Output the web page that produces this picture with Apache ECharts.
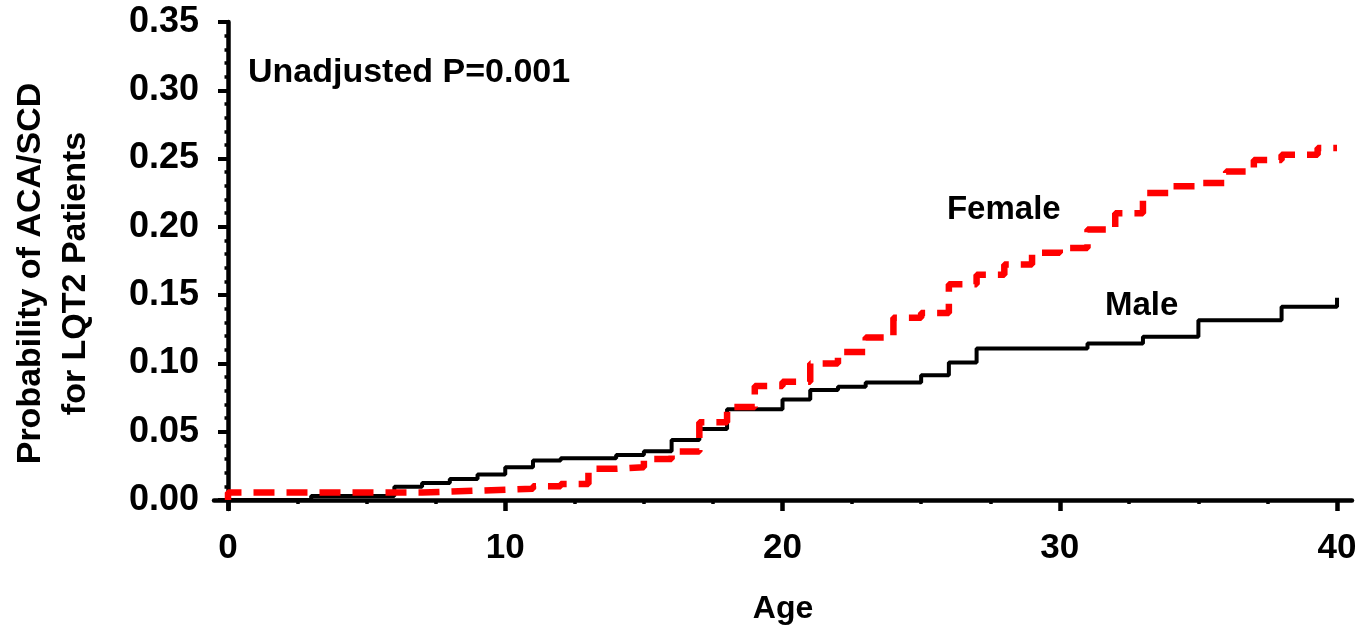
<!DOCTYPE html>
<html>
<head>
<meta charset="utf-8">
<script src="https://cdn.jsdelivr.net/npm/echarts@6/dist/echarts.min.js"></script>
<style>
html,body{margin:0;padding:0;background:#fff;}
#chart{width:1360px;height:630px;}
</style>
</head>
<body>
<div id="chart"></div>
<script>
// ---- data ----
var maleAge  = [0, 3, 6, 7, 8, 9, 10, 11, 12, 14, 15, 16, 17, 18, 20, 21, 22, 23, 25, 26, 27, 31, 33, 35, 38, 40];
var maleProb = [0, 0.003, 0.0097, 0.0125, 0.0153, 0.0186, 0.024, 0.029, 0.0305, 0.033, 0.0356, 0.044, 0.052, 0.0665, 0.0735, 0.0806, 0.083, 0.086, 0.0913, 0.1006, 0.111, 0.1145, 0.1196, 0.1317, 0.1415, 0.148];

var femaleAge  = [0, 0, 7, 9, 11, 12, 13, 14, 15, 16, 17, 18, 19, 20, 21, 22, 23, 24, 25, 26, 27, 28, 29, 30, 31, 32, 33, 34, 35, 36, 37, 38, 39.3, 40];
var femaleProb = [0, 0.0055, 0.0068, 0.0082, 0.0100, 0.0117, 0.0228, 0.024, 0.030, 0.0355, 0.057, 0.068, 0.0835, 0.0865, 0.100, 0.1084, 0.119, 0.1335, 0.137, 0.158, 0.165, 0.1724, 0.181, 0.1846, 0.198, 0.210, 0.2248, 0.2297, 0.2321, 0.2406, 0.249, 0.2528, 0.2577, 0.2577];

var xTicks = [0, 10, 20, 30, 40];
var xMinorTicks = [2.5, 5, 7.5, 12.5, 15, 17.5, 22.5, 25, 27.5, 32.5, 35, 37.5];
var yTicks = [0, 0.05, 0.10, 0.15, 0.20, 0.25, 0.30, 0.35];
var yMinorTicks = [];
for (var i = 1; i < 35; i++) { if (i % 5 !== 0) yMinorTicks.push(i / 100); }

var titleText = 'Unadjusted P=0.001';
var seriesLabels = [
  { text: 'Female', age: 25.93, prob: 0.2126 },
  { text: 'Male',   age: 31.63, prob: 0.1418 }
];
var xName = 'Age';
var yName = 'Probability of ACA/SCD\nfor LQT2 Patients';

// ---- chart ----
var FONT = '"Liberation Sans", Arial, Helvetica, sans-serif';
var xMin = -0.505, xMax = 40.54, yMin = -0.0066, yMax = 0.35;

function pairs(a, b) { return a.map(function (v, i) { return [v, b[i]]; }); }

var chart = echarts.init(document.getElementById('chart'), null, { renderer: 'canvas' });
var option = {
  animation: false,
  backgroundColor: '#fff',
  grid: { left: 214, right: 8, top: 22, bottom: 120.5, containLabel: false },
  xAxis: [{
    type: 'value', min: xMin, max: xMax, position: 'bottom',
    name: xName, nameLocation: 'middle', nameGap: 84,
    nameTextStyle: { fontFamily: FONT, fontWeight: 'bold', fontSize: 32, color: '#000' },
    axisLine: { show: true, lineStyle: { color: '#000', width: 4.5 } },
    axisTick: { show: true, customValues: xTicks, length: 11, lineStyle: { color: '#000', width: 4.5 } },
    axisLabel: { show: true, customValues: xTicks, margin: 22, showMinLabel: true, showMaxLabel: true,
      fontFamily: FONT, fontWeight: 'bold', fontSize: 35, color: '#000' },
    splitLine: { show: false }
  }, {
    type: 'value', min: xMin, max: xMax, position: 'bottom', gridIndex: 0,
    axisLine: { show: false },
    axisTick: { show: true, customValues: xMinorTicks, length: 4, lineStyle: { color: '#000', width: 3.5 } },
    axisLabel: { show: false },
    splitLine: { show: false }
  }],
  yAxis: [{
    type: 'value', min: yMin, max: yMax, position: 'left',
    name: yName, nameLocation: 'middle', nameGap: 116, nameRotate: 90,
    nameTextStyle: { fontFamily: FONT, fontWeight: 'bold', fontSize: 34, color: '#000', lineHeight: 45, align: 'center', padding: [0, 16, 0, 0] },
    axisLine: { show: true, lineStyle: { color: '#000', width: 4.5 } },
    axisTick: { show: true, customValues: yTicks, length: 10, lineStyle: { color: '#000', width: 4 } },
    axisLabel: { show: true, customValues: yTicks, margin: 15, showMinLabel: true, showMaxLabel: true,
      formatter: function (v) { return v.toFixed(2); },
      fontFamily: FONT, fontWeight: 'bold', fontSize: 36, color: '#000' },
    splitLine: { show: false }
  }, {
    type: 'value', min: yMin, max: yMax, position: 'left', gridIndex: 0,
    axisLine: { show: false },
    axisTick: { show: true, customValues: yMinorTicks, length: 3.5, lineStyle: { color: '#000', width: 3.5 } },
    axisLabel: { show: false },
    splitLine: { show: false }
  }],
  series: [{
    name: 'Male', type: 'line', step: 'end', xAxisIndex: 0, yAxisIndex: 0,
    data: pairs(maleAge, maleProb), showSymbol: false, symbol: 'none',
    lineStyle: { color: '#000', width: 4 }, z: 2
  }, {
    name: 'Female', type: 'line', step: 'end', xAxisIndex: 0, yAxisIndex: 0,
    data: pairs(femaleAge, femaleProb), showSymbol: false, symbol: 'none',
    lineStyle: { color: '#ff0000', width: 6.5, type: [21, 12] }, z: 3
  }]
};
chart.setOption(option);

// text annotations placed from data coordinates
var graphics = [{
  type: 'text', x: 248, y: 73,
  style: { text: titleText, fill: '#000', font: 'bold 34px ' + FONT, verticalAlign: 'middle', align: 'left' }
}];
seriesLabels.forEach(function (l) {
  var p = chart.convertToPixel({ xAxisIndex: 0, yAxisIndex: 0 }, [l.age, l.prob]);
  graphics.push({ type: 'text', x: p[0], y: p[1],
    style: { text: l.text, fill: '#000', font: 'bold 33px ' + FONT, verticalAlign: 'middle', align: 'left' } });
});
chart.setOption({ graphic: graphics });
</script>
</body>
</html>
